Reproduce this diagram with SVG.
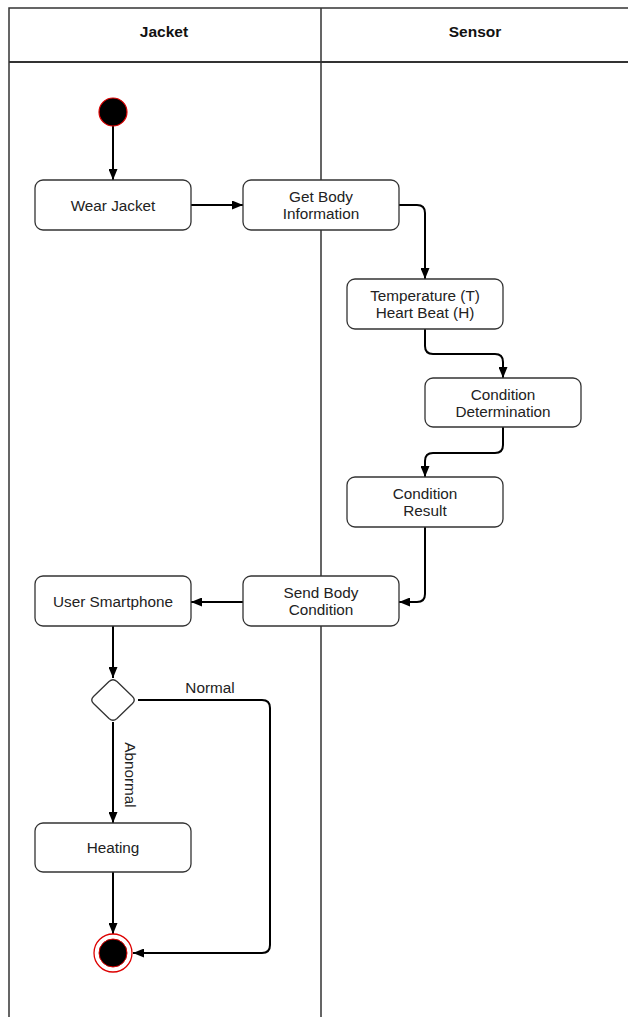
<svg xmlns="http://www.w3.org/2000/svg" width="628" height="1017" viewBox="0 0 628 1017">
<defs>
<style>
.lane{fill:none;stroke:#333;stroke-width:1.5}
.box{fill:#fff;stroke:#333;stroke-width:1.3}
.t{font-family:"Liberation Sans",Arial,sans-serif;font-size:15.3px;fill:#222;text-anchor:middle}
.h{font-family:"Liberation Sans",Arial,sans-serif;font-size:15.5px;font-weight:bold;fill:#111;text-anchor:middle}
.c{fill:none;stroke:#000;stroke-width:2}
</style>
<marker id="ah" markerUnits="userSpaceOnUse" markerWidth="11" markerHeight="9" refX="11" refY="4.5" orient="auto">
<path d="M0,0 L11,4.5 L0,9 z" fill="#000"/>
</marker>
</defs>
<rect x="0" y="0" width="628" height="1017" fill="#fff"/>
<g id="lanes">
<path class="lane" d="M628,8 H9 V1017 M321,8 V1017"/>
<path d="M9,62 H628" stroke="#333" stroke-width="2"/>
<text class="h" x="164" y="37">Jacket</text>
<text class="h" x="475" y="37">Sensor</text>
</g>
<g id="connectors">
<path class="c" marker-end="url(#ah)" d="M113,126 V180"/>
<path class="c" marker-end="url(#ah)" d="M191,205 H243"/>
<path class="c" marker-end="url(#ah)" d="M399,205 H417 Q425,205 425,213 V279"/>
<path class="c" marker-end="url(#ah)" d="M425,329 V346 Q425,354 433,354 H495 Q503,354 503,362 V378"/>
<path class="c" marker-end="url(#ah)" d="M503,427 V445 Q503,453 495,453 H433 Q425,453 425,461 V477"/>
<path class="c" marker-end="url(#ah)" d="M425,527 V594 Q425,602 417,602 H399"/>
<path class="c" marker-end="url(#ah)" d="M243,602 H191"/>
<path class="c" marker-end="url(#ah)" d="M113,626 V678"/>
<path class="c" marker-end="url(#ah)" d="M113,722 V823"/>
<path class="c" marker-end="url(#ah)" d="M113,872 V934"/>
<path class="c" marker-end="url(#ah)" d="M138,700 H262 Q270,700 270,708 V945 Q270,953 262,953 H133"/>
<text class="t" x="210" y="693">Normal</text>
<text class="t" transform="translate(125,775) rotate(90)" x="0" y="0">Abnormal</text>
</g>
<g id="start">
<circle cx="113" cy="112" r="14" fill="#000" stroke="#d00" stroke-width="1.2"/>
</g>
<g id="wear-jacket">
<rect class="box" x="35" y="180" width="156" height="50" rx="8"/>
<text class="t" x="113" y="210.5">Wear Jacket</text>
</g>
<g id="get-body-information">
<rect class="box" x="243" y="180" width="156" height="50" rx="8"/>
<text class="t" x="321" y="202">Get Body</text>
<text class="t" x="321" y="219">Information</text>
</g>
<g id="temperature-heart-beat">
<rect class="box" x="347" y="279" width="156" height="50" rx="8"/>
<text class="t" x="425" y="301">Temperature (T)</text>
<text class="t" x="425" y="318">Heart Beat (H)</text>
</g>
<g id="condition-determination">
<rect class="box" x="425" y="378" width="156" height="49" rx="8"/>
<text class="t" x="503" y="400">Condition</text>
<text class="t" x="503" y="417">Determination</text>
</g>
<g id="condition-result">
<rect class="box" x="347" y="477" width="156" height="50" rx="8"/>
<text class="t" x="425" y="499">Condition</text>
<text class="t" x="425" y="516">Result</text>
</g>
<g id="send-body-condition">
<rect class="box" x="243" y="576" width="156" height="50" rx="8"/>
<text class="t" x="321" y="598">Send Body</text>
<text class="t" x="321" y="615">Condition</text>
</g>
<g id="user-smartphone">
<rect class="box" x="35" y="576" width="156" height="50" rx="8"/>
<text class="t" x="113" y="606.5">User Smartphone</text>
</g>
<g id="decision">
<path class="box" d="M109,681.5 Q113,678 117,681.5 L132.5,696.5 Q136,700 132.5,703.5 L117,718.5 Q113,722 109,718.5 L93.5,703.5 Q90,700 93.5,696.5 Z"/>
</g>
<g id="heating">
<rect class="box" x="35" y="823" width="156" height="49" rx="8"/>
<text class="t" x="113" y="853">Heating</text>
</g>
<g id="end">
<circle cx="113" cy="953" r="19" fill="#fff" stroke="#d00" stroke-width="1.3"/>
<circle cx="113" cy="953" r="14" fill="#000" stroke="#d00" stroke-width="1"/>
</g>
</svg>
